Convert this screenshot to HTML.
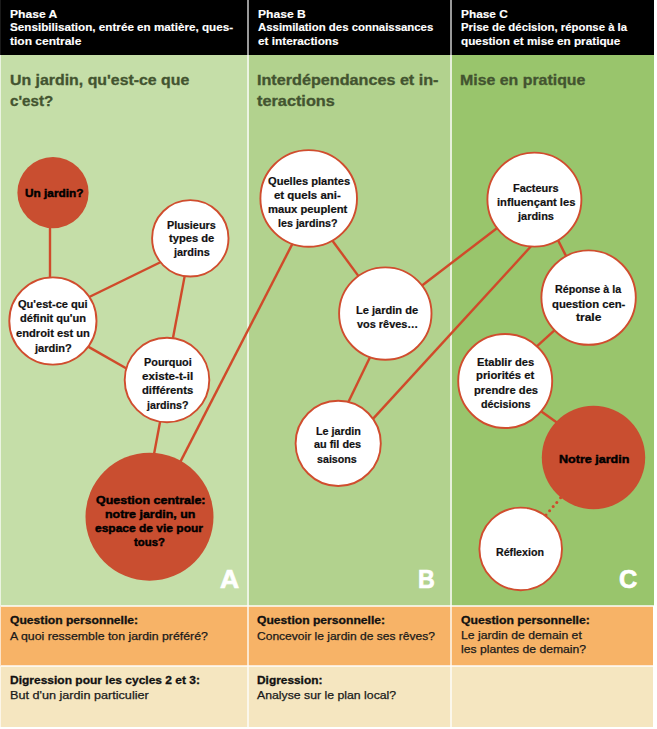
<!DOCTYPE html>
<html><head><meta charset="utf-8"><style>
*{margin:0;padding:0;box-sizing:border-box}
html,body{width:657px;height:729px;overflow:hidden;background:#fff}
body{position:relative;font-family:"Liberation Sans",sans-serif}
.bg{position:absolute}
.hd,.ti,.cw,.cr,.big,.qb,.qr{position:absolute;white-space:nowrap;line-height:1;transform-origin:0 0;font-weight:bold}
.hd{color:#fff;-webkit-text-stroke:0.15px #fff}
.ti{color:#435430;-webkit-text-stroke:0.3px #435430}
.cw{color:#111;-webkit-text-stroke:0.2px #111}
.cr{color:#000;-webkit-text-stroke:0.45px #000}
.big{color:#fff;-webkit-text-stroke:0.7px #fff}
.qb{color:#111;-webkit-text-stroke:0.3px #111}
.qr{color:#1a1a1a;font-weight:normal;-webkit-text-stroke:0.25px #1a1a1a}
svg{position:absolute;left:0;top:0}
</style></head><body>
<div class="bg" style="left:0;top:0;width:654px;height:55px;background:#000"></div>
<div class="bg" style="left:0;top:0;width:1px;height:55px;background:#1a1a1a"></div>
<div class="bg" style="left:0;top:55px;width:249px;height:551px;background:#c5dea8"></div>
<div class="bg" style="left:249px;top:55px;width:203px;height:551px;background:#b2d28e"></div>
<div class="bg" style="left:452px;top:55px;width:202px;height:551px;background:#99c56c"></div>
<div class="bg" style="left:0;top:606px;width:653px;height:60px;background:#f7b367"></div>
<div class="bg" style="left:0;top:666px;width:653px;height:61px;background:#f5e6c0"></div>
<div class="bg" style="left:0;top:55px;width:1px;height:672px;background:rgba(255,255,255,0.65)"></div>
<div class="bg" style="left:1px;top:605px;width:653px;height:2px;background:rgba(255,255,255,0.72)"></div>
<div class="bg" style="left:1px;top:665px;width:653px;height:2px;background:rgba(255,255,255,0.72)"></div>
<div class="bg" style="left:247px;top:0;width:2px;height:727px;background:rgba(255,255,255,0.6)"></div>
<div class="bg" style="left:450px;top:0;width:2px;height:727px;background:rgba(255,255,255,0.6)"></div>
<div class="bg" style="left:247px;top:55px;width:2px;height:672px;background:rgba(255,255,255,0.2)"></div>
<div class="bg" style="left:450px;top:55px;width:2px;height:672px;background:rgba(255,255,255,0.2)"></div>
<svg width="657" height="729" viewBox="0 0 657 729">
<g stroke="#d04a2a" stroke-width="2.4" fill="none"><line x1="50.0" y1="185.0" x2="50.0" y2="329.0"/><line x1="84.1" y1="299.5" x2="167.0" y2="259.0"/><line x1="186.0" y1="269.1" x2="171.5" y2="345.8"/><line x1="82.4" y1="343.4" x2="131.8" y2="371.5"/><line x1="161.3" y1="415.3" x2="152.6" y2="461.6"/><line x1="177.0" y1="468.4" x2="295.2" y2="238.4"/><line x1="328.4" y1="235.2" x2="361.8" y2="280.6"/><line x1="372.9" y1="351.3" x2="345.6" y2="407.8"/><line x1="368.6" y1="423.6" x2="534.2" y2="242.8"/><line x1="417.8" y1="288.7" x2="502.1" y2="224.3"/><line x1="555.1" y1="234.4" x2="568.6" y2="261.1"/><line x1="532.1" y1="350.6" x2="559.1" y2="326.1"/><line x1="535.4" y1="407.3" x2="562.1" y2="426.2"/></g>
<g fill="#d04a2a"><circle cx="560.6" cy="497.8" r="1.5"/><circle cx="556.8" cy="502.4" r="1.5"/><circle cx="553.2" cy="506.5" r="1.5"/><circle cx="549.6" cy="510.7" r="1.5"/><circle cx="546" cy="514.9" r="1.5"/></g>
<circle cx="53" cy="192.7" r="35.6" fill="#c94e30"/><circle cx="190.3" cy="238.3" r="38.2" fill="#fff" stroke="#d04d2e" stroke-width="1.9"/><circle cx="52.9" cy="321" r="43.6" fill="#fff" stroke="#d04d2e" stroke-width="1.9"/><circle cx="167" cy="380" r="42.3" fill="#fff" stroke="#d04d2e" stroke-width="1.9"/><circle cx="149.5" cy="516.7" r="64.0" fill="#c94e30"/><circle cx="308.7" cy="198.4" r="48.3" fill="#fff" stroke="#d04d2e" stroke-width="1.9"/><circle cx="385.3" cy="313.6" r="46.2" fill="#fff" stroke="#d04d2e" stroke-width="1.9"/><circle cx="338.2" cy="443.4" r="42.6" fill="#fff" stroke="#d04d2e" stroke-width="1.9"/><circle cx="534.4" cy="199.6" r="47.0" fill="#fff" stroke="#d04d2e" stroke-width="1.9"/><circle cx="588.6" cy="297.6" r="47.2" fill="#fff" stroke="#d04d2e" stroke-width="1.9"/><circle cx="505.2" cy="381" r="47.0" fill="#fff" stroke="#d04d2e" stroke-width="1.9"/><circle cx="593.5" cy="457.5" r="51.7" fill="#c94e30"/><circle cx="520.7" cy="548.9" r="41.3" fill="#fff" stroke="#d04d2e" stroke-width="1.9"/>
</svg>
<div class="hd" style="left:9.50px;top:7.80px;font-size:11.7px;transform:scaleX(1.035)">Phase A</div>
<div class="hd" style="left:9.50px;top:22.09px;font-size:11.0px;transform:scaleX(1.061)">Sensibilisation, entrée en matière, ques-</div>
<div class="hd" style="left:9.50px;top:35.99px;font-size:11.0px;transform:scaleX(1.091)">tion centrale</div>
<div class="hd" style="left:257.60px;top:7.80px;font-size:11.7px;transform:scaleX(1.035)">Phase B</div>
<div class="hd" style="left:257.60px;top:22.09px;font-size:11.0px;transform:scaleX(1.035)">Assimilation des connaissances</div>
<div class="hd" style="left:257.60px;top:35.99px;font-size:11.0px;transform:scaleX(1.072)">et interactions</div>
<div class="hd" style="left:461.00px;top:7.80px;font-size:11.7px;transform:scaleX(1.013)">Phase C</div>
<div class="hd" style="left:461.00px;top:22.09px;font-size:11.0px;transform:scaleX(1.033)">Prise de décision, réponse à la</div>
<div class="hd" style="left:461.00px;top:35.99px;font-size:11.0px;transform:scaleX(1.068)">question et mise en pratique</div>
<div class="ti" style="left:9.80px;top:73.34px;font-size:14.6px;transform:scaleX(1.088)">Un jardin, qu'est-ce que</div>
<div class="ti" style="left:9.70px;top:94.14px;font-size:14.6px;transform:scaleX(1.039)">c'est?</div>
<div class="ti" style="left:257.00px;top:73.34px;font-size:14.6px;transform:scaleX(1.108)">Interdépendances et in-</div>
<div class="ti" style="left:257.00px;top:94.14px;font-size:14.6px;transform:scaleX(1.116)">teractions</div>
<div class="ti" style="left:459.50px;top:73.34px;font-size:14.6px;transform:scaleX(1.089)">Mise en pratique</div>
<div class="cr" style="left:25.30px;top:188.29px;font-size:11px;transform:scaleX(1.074)">Un jardin?</div>
<div class="cw" style="left:166.70px;top:219.59px;font-size:11px;transform:scaleX(0.984)">Plusieurs</div>
<div class="cw" style="left:168.80px;top:233.09px;font-size:11px;transform:scaleX(1.015)">types de</div>
<div class="cw" style="left:173.59px;top:247.39px;font-size:11px;transform:scaleX(0.991)">jardins</div>
<div class="cw" style="left:18.40px;top:298.99px;font-size:11px;transform:scaleX(1.006)">Qu'est-ce qui</div>
<div class="cw" style="left:20.20px;top:313.49px;font-size:11px;transform:scaleX(1.006)">définit qu'un</div>
<div class="cw" style="left:16.00px;top:327.69px;font-size:11px;transform:scaleX(1.016)">endroit est un</div>
<div class="cw" style="left:34.90px;top:342.79px;font-size:11px;transform:scaleX(1.004)">jardin?</div>
<div class="cw" style="left:143.50px;top:356.89px;font-size:11px;transform:scaleX(0.989)">Pourquoi</div>
<div class="cw" style="left:141.80px;top:371.49px;font-size:11px;transform:scaleX(1.059)">existe-t-il</div>
<div class="cw" style="left:141.80px;top:384.99px;font-size:11px;transform:scaleX(1.022)">différents</div>
<div class="cw" style="left:146.97px;top:399.89px;font-size:11px;transform:scaleX(0.969)">jardins?</div>
<div class="cr" style="left:95.50px;top:495.12px;font-size:11.2px;transform:scaleX(1.115)">Question centrale:</div>
<div class="cr" style="left:104.60px;top:509.22px;font-size:11.2px;transform:scaleX(1.109)">notre jardin, un</div>
<div class="cr" style="left:95.00px;top:522.92px;font-size:11.2px;transform:scaleX(1.072)">espace de vie pour</div>
<div class="cr" style="left:134.30px;top:536.62px;font-size:11.2px;transform:scaleX(1.016)">tous?</div>
<div class="cw" style="left:268.10px;top:175.99px;font-size:11px;transform:scaleX(1.010)">Quelles plantes</div>
<div class="cw" style="left:274.20px;top:189.69px;font-size:11px;transform:scaleX(1.040)">et quels ani-</div>
<div class="cw" style="left:268.10px;top:204.49px;font-size:11px;transform:scaleX(1.021)">maux peuplent</div>
<div class="cw" style="left:278.20px;top:217.69px;font-size:11px;transform:scaleX(0.975)">les jardins?</div>
<div class="cw" style="left:356.00px;top:305.29px;font-size:11px;transform:scaleX(1.005)">Le jardin de</div>
<div class="cw" style="left:356.80px;top:318.59px;font-size:11px;transform:scaleX(0.992)">vos rêves…</div>
<div class="cw" style="left:316.00px;top:425.69px;font-size:11px;transform:scaleX(0.980)">Le jardin</div>
<div class="cw" style="left:314.00px;top:439.39px;font-size:11px;transform:scaleX(0.988)">au fil des</div>
<div class="cw" style="left:317.40px;top:453.79px;font-size:11px;transform:scaleX(0.972)">saisons</div>
<div class="cw" style="left:513.20px;top:182.79px;font-size:11px;transform:scaleX(0.995)">Facteurs</div>
<div class="cw" style="left:496.80px;top:196.59px;font-size:11px;transform:scaleX(1.018)">influençant les</div>
<div class="cw" style="left:517.90px;top:210.89px;font-size:11px;transform:scaleX(0.996)">jardins</div>
<div class="cw" style="left:555.10px;top:283.99px;font-size:11px;transform:scaleX(0.975)">Réponse à la</div>
<div class="cw" style="left:551.80px;top:298.59px;font-size:11px;transform:scaleX(1.026)">question cen-</div>
<div class="cw" style="left:576.00px;top:312.49px;font-size:11px;transform:scaleX(1.090)">trale</div>
<div class="cw" style="left:477.10px;top:356.89px;font-size:11px;transform:scaleX(1.016)">Etablir des</div>
<div class="cw" style="left:476.30px;top:370.39px;font-size:11px;transform:scaleX(1.025)">priorités et</div>
<div class="cw" style="left:474.00px;top:385.39px;font-size:11px;transform:scaleX(1.018)">prendre des</div>
<div class="cw" style="left:480.90px;top:399.09px;font-size:11px;transform:scaleX(0.976)">décisions</div>
<div class="cr" style="left:558.90px;top:453.92px;font-size:11.2px;transform:scaleX(1.122)">Notre jardin</div>
<div class="cw" style="left:495.80px;top:546.69px;font-size:11px;transform:scaleX(0.968)">Réflexion</div>
<div class="big" style="left:220.00px;top:566.74px;font-size:25px;transform:scaleX(1.061)">A</div>
<div class="big" style="left:417.77px;top:566.74px;font-size:25px;transform:scaleX(0.931)">B</div>
<div class="big" style="left:619.49px;top:566.74px;font-size:25px;transform:scaleX(1.012)">C</div>
<div class="qb" style="left:10.00px;top:614.73px;font-size:11.3px;transform:scaleX(1.074)">Question personnelle:</div>
<div class="qr" style="left:10.00px;top:630.72px;font-size:11.2px;transform:scaleX(1.101)">A quoi ressemble ton jardin préféré?</div>
<div class="qb" style="left:10.00px;top:675.03px;font-size:11.3px;transform:scaleX(1.062)">Digression pour les cycles 2 et 3:</div>
<div class="qr" style="left:10.00px;top:690.12px;font-size:11.2px;transform:scaleX(1.130)">But d'un jardin particulier</div>
<div class="qb" style="left:257.40px;top:614.73px;font-size:11.3px;transform:scaleX(1.074)">Question personnelle:</div>
<div class="qr" style="left:257.40px;top:630.72px;font-size:11.2px;transform:scaleX(1.076)">Concevoir le jardin de ses rêves?</div>
<div class="qb" style="left:257.40px;top:675.03px;font-size:11.3px;transform:scaleX(1.052)">Digression:</div>
<div class="qr" style="left:257.40px;top:690.12px;font-size:11.2px;transform:scaleX(1.097)">Analyse sur le plan local?</div>
<div class="qb" style="left:460.70px;top:614.73px;font-size:11.3px;transform:scaleX(1.080)">Question personnelle:</div>
<div class="qr" style="left:460.70px;top:629.82px;font-size:11.2px;transform:scaleX(1.091)">Le jardin de demain et</div>
<div class="qr" style="left:460.70px;top:643.92px;font-size:11.2px;transform:scaleX(1.087)">les plantes de demain?</div>
</body></html>
